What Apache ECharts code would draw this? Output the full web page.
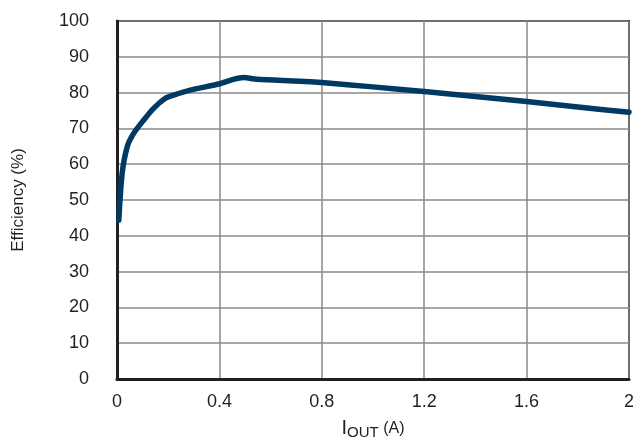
<!DOCTYPE html>
<html>
<head>
<meta charset="utf-8">
<script src="https://cdn.jsdelivr.net/npm/echarts@6/dist/echarts.min.js"></script>
<style>
html,body{margin:0;padding:0;background:#fff;}
#c{width:633px;height:440px;}
</style>
</head>
<body>
<div id="c"></div>
<script>
const currentA = [0.007, 0.02, 0.04, 0.065, 0.104, 0.143, 0.189, 0.221, 0.286, 0.397, 0.455, 0.494, 0.546, 0.715, 0.8, 1.0, 1.2, 1.4, 1.6, 1.8, 2.0];
const efficiency = [44.4, 57.4, 64.9, 68.6, 72.3, 75.6, 78.4, 79.3, 80.7, 82.4, 83.7, 84.2, 83.7, 83.2, 82.8, 81.6, 80.3, 78.9, 77.5, 76.0, 74.5];
const xTicks = [0, 0.4, 0.8, 1.2, 1.6, 2];
const yTicks = [0, 10, 20, 30, 40, 50, 60, 70, 80, 90, 100];

const font = '"Liberation Sans", Arial, sans-serif';
const chart = echarts.init(document.getElementById('c'), null, {renderer: 'canvas'});
chart.setOption({
  animation: false,
  backgroundColor: '#fff',
  grid: {left: 117, right: 4, top: 21, bottom: 61, containLabel: false, outerBoundsMode: 'none',
         show: true, borderColor: '#231f20', borderWidth: 2, backgroundColor: 'transparent'},
  xAxis: {
    type: 'value', min: 0, max: 2, interval: 0.4,
    name: '{i|I}{sub|OUT}{u| (A)}',
    nameLocation: 'middle', nameGap: 38,
    nameTextStyle: {
      rich: {
        i: {fontFamily: font, fontSize: 20, color: '#231f20'},
        sub: {fontFamily: font, fontSize: 15, color: '#231f20', padding: [8, 0, 0, 0]},
        u: {fontFamily: font, fontSize: 16, color: '#231f20'}
      }
    },
    axisLine: {show: true, lineStyle: {color: '#231f20', width: 3}},
    axisTick: {show: false},
    splitLine: {show: true, lineStyle: {color: '#8a8a8c', width: 1.5}},
    axisLabel: {
      margin: 14, fontFamily: font, fontSize: 18, color: '#231f20',
      formatter: v => { const t = xTicks.find(k => Math.abs(k - v) < 1e-6); return t === undefined ? '' : String(t); }
    }
  },
  yAxis: {
    type: 'value', min: 0, max: 100, interval: 10,
    name: 'Efficiency (%)',
    nameLocation: 'middle', nameGap: 90, nameRotate: 90,
    nameTextStyle: {fontFamily: font, fontSize: 17, color: '#231f20'},
    axisLine: {show: true, lineStyle: {color: '#231f20', width: 3}},
    axisTick: {show: false},
    splitLine: {show: true, lineStyle: {color: '#8a8a8c', width: 1.5}},
    axisLabel: {
      margin: 28, fontFamily: font, fontSize: 18, color: '#231f20',
      formatter: v => { const t = yTicks.find(k => Math.abs(k - v) < 1e-6); return t === undefined ? '' : String(t); }
    }
  },
  series: [{
    type: 'line',
    data: currentA.map((x, i) => [x, efficiency[i]]),
    showSymbol: false,
    smooth: 0.25,
    clip: false,
    lineStyle: {color: '#003a63', width: 5.5, cap: 'round', join: 'round'}
  }]
});
</script>
</body>
</html>
